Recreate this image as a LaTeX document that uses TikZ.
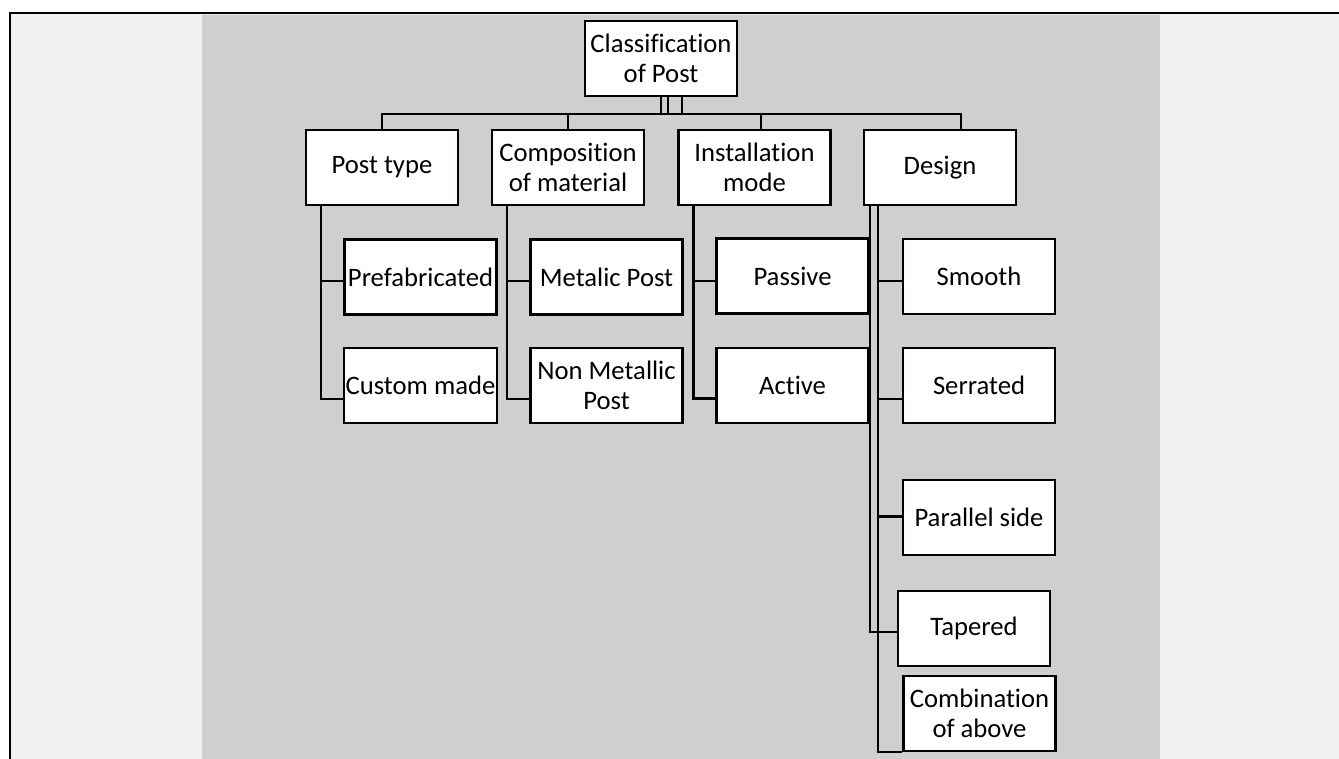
\documentclass[tikz,border=0pt]{standalone}
\usepackage{fontspec}
\setmainfont[Ligatures=NoCommon]{Carlito}
\usetikzlibrary{calc}
\definecolor{lightbg}{HTML}{F1F1F1}
\definecolor{darkbg}{HTML}{D0CECF}
\begin{document}
\begin{tikzpicture}[x=0.75pt,y=-0.75pt,
  box/.style={draw=black, fill=white, line width=1.6pt, minimum width=114pt, minimum height=56.25pt,
    align=center, inner sep=1pt, font=\fontsize{20}{22.5}\selectfont},
  conn/.style={draw=black, line width=1.6pt}]
\useasboundingbox (0,0) rectangle (1339,759);
% background
\fill[white] (0,0) rectangle (1339,759);
\fill[lightbg] (11,14) rectangle (1339,759);
\fill[darkbg] (202,15) rectangle (1160,759);
\draw[line width=1.6pt] (9,13) -- (1339,13);
\draw[line width=1.6pt] (10,12) -- (10,759);
% nodes
\node[box] (root) at (661,58.5) {Classification\\of Post};
\node[box] (pt) at (382,167.5) {Post type};
\node[box] (comp) at (568,167.5) {Composition\\of material};
\node[box] (inst) at (754.5,167.5) {Installation\\mode};
\node[box] (design) at (940,167.5) {Design};
\node[box] (pref) at (420.5,277) {Prefabricated};
\node[box] (cust) at (420.5,385.5) {Custom made};
\node[box] (metal) at (606.5,277) {Metalic Post};
\node[box] (nonmetal) at (606.5,385.5) {Non Metallic\\Post};
\node[box] (passive) at (792.5,276) {Passive};
\node[box] (active) at (792.5,385.5) {Active};
\node[box] (smooth) at (979,276.5) {Smooth};
\node[box] (serr) at (979,385.5) {Serrated};
\node[box] (par) at (979,517.5) {Parallel side};
\node[box] (taper) at (974,628.5) {Tapered};
\node[box] (comb) at (979.5,713.5) {Combination\\of above};
% bus
\coordinate (bus) at (0,114);
\draw[conn] (root.south) -- (root.south |- bus);
\draw[conn] ($(root.south)+(7,0)$) -- ($(root.south |- bus)+(7,0)$);
\draw[conn] ($(root.south)+(21,0)$) -- ($(root.south |- bus)+(21,0)$);
\draw[conn] (pt.north) -- (pt.north |- bus) -- ($(design.north |- bus)+(21,0)$) -- ($(design.north)+(21,0)$);
\draw[conn] (comp.north) -- (comp.north |- bus);
\draw[conn] ($(inst.north)+(6.5,0)$) -- ($(inst.north |- bus)+(6.5,0)$);
% children
\draw[conn] ($(pt.south west)+(16,0)$) |- ($(pref.west)+(0,4)$);
\draw[conn] ($(pt.south west)+(16,0)$) |- ($(cust.west)+(0,13.5)$);
\draw[conn] ($(comp.south west)+(16,0)$) |- ($(metal.west)+(0,4)$);
\draw[conn] ($(comp.south west)+(16,0)$) |- ($(nonmetal.west)+(0,13.5)$);
\draw[conn] ($(inst.south west)+(16,0)$) |- ($(passive.west)+(0,5)$);
\draw[conn] ($(inst.south west)+(16,0)$) |- ($(active.west)+(0,13)$);
\draw[conn] ($(design.south west)+(15,0)$) |- ($(smooth.west)+(0,4.5)$);
\draw[conn] ($(design.south west)+(15,0)$) |- ($(serr.west)+(0,13.5)$);
\draw[conn] ($(design.south west)+(15,0)$) |- ($(par.west)+(0,-1)$);
\draw[conn] ($(design.south west)+(15,0)$) |- (comb.south west);
\draw[conn] ($(design.south west)+(7,0)$) |- ($(taper.west)+(0,3.5)$);
\end{tikzpicture}
\end{document}
